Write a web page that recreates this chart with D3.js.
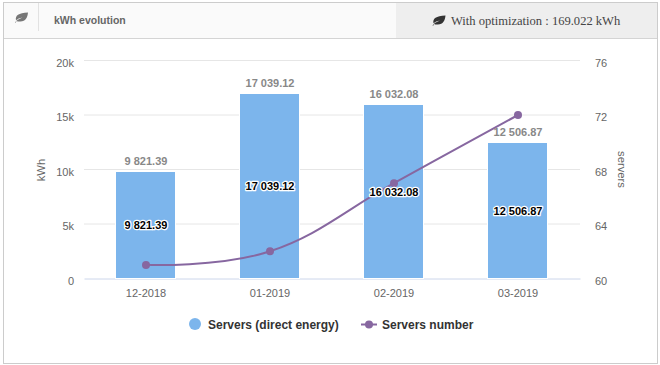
<!DOCTYPE html>
<html>
<head>
<meta charset="utf-8">
<script src="https://cdn.jsdelivr.net/npm/d3@7"></script>
<style>
  html, body { margin: 0; background: #fff; }
  text { font-family: "Liberation Sans", Arial, sans-serif; }
</style>
</head>
<body>
<div id="chart"></div>
<script>
var months = ["12-2018", "01-2019", "02-2019", "03-2019"];
var energy = [9821.39, 17039.12, 16032.08, 12506.87];
var servers = [61, 62, 67, 72];
var energyTicks = [0, 5000, 10000, 15000, 20000];
var serverTicks = [60, 64, 68, 72, 76];

var barColor = "#7cb5ec", lineColor = "#8767a0";
var W = 660, H = 365;
var margin = {top: 60.5, right: 80, bottom: 86.5, left: 84};

var svg = d3.select("#chart").append("svg")
    .attr("width", W)
    .attr("height", H)
    .style("display", "block");

// panel and header
svg.append("rect").attr("x", 3.5).attr("y", 2.5).attr("width", 654).attr("height", 361)
    .attr("fill", "#fff").attr("stroke", "#ccc");
svg.append("rect").attr("x", 4).attr("y", 3).attr("width", 653).attr("height", 35).attr("fill", "#fafafa");
svg.append("rect").attr("x", 396).attr("y", 3).attr("width", 261).attr("height", 35).attr("fill", "#eee");
svg.append("line").attr("x1", 4).attr("x2", 657).attr("y1", 38.5).attr("y2", 38.5).attr("stroke", "#d4d4d4");
svg.append("line").attr("x1", 38.5).attr("x2", 38.5).attr("y1", 3).attr("y2", 31).attr("stroke", "#e2e2e2");

var leaf = "M-6.5 5 C-5 3 -3 1.5 1 0 C-2 0.5 -4 1.5 -5.5 2.8 C-6.5 -2 -3 -4.5 6.5 -5 C6 0 4 4.5 -2 4 C-3.2 4 -4.2 3.7 -5 3.4 L-5.8 5.2 Z";
svg.append("path").attr("d", leaf).attr("transform", "translate(21.5,17.5)").attr("fill", "#777");
svg.append("path").attr("d", leaf).attr("transform", "translate(439,20.5)").attr("fill", "#333");

svg.append("text").attr("x", 54).attr("y", 24)
    .attr("font-size", 10.5).attr("font-weight", "bold").attr("fill", "#666")
    .text("kWh evolution");
svg.append("text").attr("x", 451).attr("y", 25)
    .style("font-family", '"Liberation Serif", serif')
    .attr("font-size", 12.55).attr("fill", "#444")
    .text("With optimization : 169.022 kWh");

var x = d3.scaleBand().domain(months).range([margin.left, W - margin.right]);
var y = d3.scaleLinear().domain([0, 20000]).range([H - margin.bottom, margin.top]);
var y2 = d3.scaleLinear().domain([60, 76]).range([H - margin.bottom, margin.top]);
var cx = function(m) { return x(m) + x.bandwidth() / 2; };
var barW = 60;

var fmt = d3.formatLocale({decimal: ".", thousands: " ", grouping: [3], currency: ["", ""]}).format(",.2f");

// grid
svg.append("g").selectAll("line")
    .data(energyTicks.slice(1))
    .join("line")
      .attr("x1", margin.left)
      .attr("x2", W - margin.right)
      .attr("y1", d => y(d))
      .attr("y2", d => y(d))
      .attr("stroke", "#e6e6e6");

// axes
var xAxis = svg.append("g")
    .attr("transform", "translate(0," + (H - margin.bottom) + ")")
    .call(d3.axisBottom(x).tickSize(0).tickPadding(11));
xAxis.select(".domain").attr("stroke", "#ccd6eb");

var yAxis = svg.append("g")
    .attr("transform", "translate(" + margin.left + ",0)")
    .call(d3.axisLeft(y).tickValues(energyTicks).tickSize(0).tickPadding(10)
        .tickFormat(d => d === 0 ? "0" : (d / 1000) + "k"));
yAxis.select(".domain").remove();
yAxis.selectAll(".tick text").attr("dy", "0.5em");

var yAxis2 = svg.append("g")
    .attr("transform", "translate(" + (W - margin.right) + ",0)")
    .call(d3.axisRight(y2).tickValues(serverTicks).tickSize(0).tickPadding(15));
yAxis2.select(".domain").remove();
yAxis2.selectAll(".tick text").attr("dy", "0.5em");

svg.selectAll(".tick text")
    .attr("font-size", 11)
    .attr("fill", "#666")
    .style("font-family", '"Liberation Sans", Arial, sans-serif');

svg.append("text")
    .attr("transform", "translate(45,170) rotate(-90)")
    .attr("text-anchor", "middle").attr("font-size", 11.25).attr("fill", "#666")
    .text("kWh");
svg.append("text")
    .attr("transform", "translate(617.5,169.5) rotate(90)")
    .attr("text-anchor", "middle").attr("font-size", 11.25).attr("fill", "#666")
    .text("servers");

// bars, tops snapped to the pixel like the original
svg.append("g").selectAll("rect")
    .data(months)
    .join("rect")
      .attr("x", d => cx(d) - barW / 2 - 0.5)
      .attr("width", barW)
      .attr("y", (d, i) => Math.round(y(energy[i])) + 0.5)
      .attr("height", (d, i) => y(0) - Math.round(y(energy[i])) - 0.5)
      .attr("fill", barColor)
      .attr("stroke", "#fff")
      .attr("stroke-width", 1);

// servers line, same shape as a highcharts spline
var line = d3.line()
    .curve(d3.curveCardinal.tension(-0.2))
    .x((d, i) => cx(months[i]))
    .y(d => y2(d));

svg.append("path")
    .attr("d", line(servers))
    .attr("fill", "none")
    .attr("stroke", lineColor)
    .attr("stroke-width", 2);

svg.append("g").selectAll("circle")
    .data(servers)
    .join("circle")
      .attr("cx", (d, i) => cx(months[i]))
      .attr("cy", d => y2(d))
      .attr("r", 4)
      .attr("fill", lineColor);

// value labels
svg.append("g").selectAll("text")
    .data(energy)
    .join("text")
      .attr("x", (d, i) => cx(months[i]))
      .attr("y", d => y(d) - 6)
      .attr("text-anchor", "middle")
      .attr("font-size", 11)
      .attr("font-weight", "bold")
      .attr("fill", "#888")
      .text(d => fmt(d));

svg.append("g").selectAll("text")
    .data(energy)
    .join("text")
      .attr("x", (d, i) => cx(months[i]))
      .attr("y", d => y(d / 2) + 4.5)
      .attr("text-anchor", "middle")
      .attr("font-size", 11)
      .attr("font-weight", "bold")
      .attr("fill", "#000")
      .attr("stroke", "#fff")
      .attr("stroke-width", 2.5)
      .attr("stroke-linejoin", "round")
      .style("paint-order", "stroke")
      .text(d => fmt(d));

// legend
var legend = svg.append("g").attr("font-size", 12).attr("font-weight", "bold").attr("fill", "#333");
legend.append("circle").attr("cx", 195).attr("cy", 324).attr("r", 6).attr("fill", barColor);
legend.append("text").attr("x", 208).attr("y", 329).text("Servers (direct energy)");
legend.append("line").attr("x1", 361).attr("x2", 377).attr("y1", 324.5).attr("y2", 324.5)
    .attr("stroke", lineColor).attr("stroke-width", 2);
legend.append("circle").attr("cx", 369).attr("cy", 324.5).attr("r", 4).attr("fill", lineColor);
legend.append("text").attr("x", 382).attr("y", 329).text("Servers number");
</script>
</body>
</html>
